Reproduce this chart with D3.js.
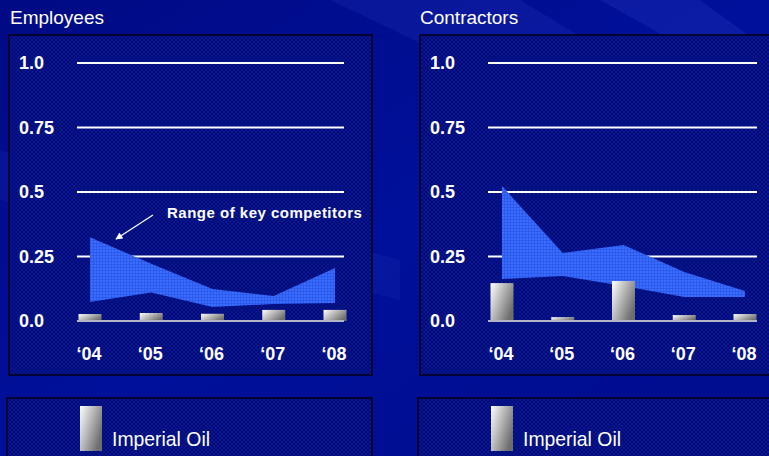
<!doctype html>
<html>
  <head>
    <script src="https://cdnjs.cloudflare.com/ajax/libs/d3/7.8.5/d3.min.js"></script>
    <style>
      body { margin: 0; background: #00088a; }
      svg { display: block; }
      text { font-family: "Liberation Sans", Arial, sans-serif; fill: #fff; }
      .title { font-size: 19px; }
      .tick-label { font-size: 18px; font-weight: bold; }
      .year { font-size: 18px; font-weight: bold; }
      .note { font-size: 15px; font-weight: bold; letter-spacing: 0.5px; }
      .legend-text { font-size: 21px; }
      line.grid { stroke: #fff; stroke-width: 2; }
      line.base { stroke: #b4b4c8; stroke-width: 2; }
      rect.panel { fill: url(#hatch); stroke: #000014; stroke-width: 1.5; }
      path.range { fill: url(#bandFill); }
    </style>
  </head>
  <body>
    <svg id="chart" width="769" height="456"></svg>
    <script>
      var years = ["\u201804", "\u201805", "\u201806", "\u201807", "\u201808"];
      var tickValues = [0, 0.25, 0.5, 0.75, 1.0];
      var tickLabels = ["0.0", "0.25", "0.5", "0.75", "1.0"];

      // Employees
      var empImperial = [0.027, 0.031, 0.028, 0.043, 0.043];
      var empLow = [0.074, 0.11, 0.054, 0.066, 0.07];
      var empHigh = [0.325, 0.222, 0.124, 0.097, 0.205];

      // Contractors
      var conImperial = [0.147, 0.015, 0.155, 0.023, 0.027];
      var conLow = [0.163, 0.174, 0.136, 0.093, 0.093];
      var conHigh = [0.523, 0.264, 0.295, 0.19, 0.116];

      var svg = d3.select("#chart");
      var defs = svg.append("defs");

      var bg = defs.append("linearGradient").attr("id", "bg")
        .attr("x1", 0).attr("y1", 0).attr("x2", 1).attr("y2", 1);
      bg.append("stop").attr("offset", "0%").attr("stop-color", "#000a84");
      bg.append("stop").attr("offset", "50%").attr("stop-color", "#00109a");
      bg.append("stop").attr("offset", "100%").attr("stop-color", "#000c8e");

      var hatch = defs.append("pattern").attr("id", "hatch")
        .attr("width", 4).attr("height", 4).attr("patternUnits", "userSpaceOnUse");
      hatch.append("rect").attr("width", 4).attr("height", 4).attr("fill", "#000a70");
      hatch.append("path").attr("d", "M0,0L4,4M4,0L0,4")
        .attr("stroke", "#0a1aa0").attr("stroke-width", 0.8);

      var band = defs.append("pattern").attr("id", "bandFill")
        .attr("width", 3).attr("height", 3).attr("patternUnits", "userSpaceOnUse");
      band.append("rect").attr("width", 3).attr("height", 3).attr("fill", "#3a6cff");
      band.append("path").attr("d", "M0,0.5H3M0.5,0V3")
        .attr("stroke", "#2654e4").attr("stroke-width", 0.7);

      var barGrad = defs.append("linearGradient").attr("id", "barGrad")
        .attr("x1", 0).attr("y1", 0).attr("x2", 1).attr("y2", 0.6);
      barGrad.append("stop").attr("offset", "0%").attr("stop-color", "#ffffff");
      barGrad.append("stop").attr("offset", "55%").attr("stop-color", "#b0b0b0");
      barGrad.append("stop").attr("offset", "100%").attr("stop-color", "#6e6e6e");

      defs.append("marker").attr("id", "arrow")
        .attr("viewBox", "0 0 10 10").attr("refX", 9).attr("refY", 5)
        .attr("markerWidth", 6).attr("markerHeight", 6).attr("orient", "auto")
        .append("path").attr("d", "M0,0L10,5L0,10z").attr("fill", "#fff");

      svg.append("rect").attr("width", 769).attr("height", 456).attr("fill", "url(#bg)");
      // light streaks in the background
      svg.append("path").attr("d", "M330,0L520,0L769,150L769,210Z")
        .attr("fill", "#1a2ab0").attr("opacity", 0.35);
      svg.append("path").attr("d", "M600,0L700,0L769,50L769,95Z")
        .attr("fill", "#2233bb").attr("opacity", 0.35);
      svg.append("path").attr("d", "M0,150L400,260L400,300L0,200Z")
        .attr("fill", "#1a2ab0").attr("opacity", 0.25);

      var y = d3.scaleLinear().domain([0, 1]).range([321, 63]);

      function drawPanel(opt) {
        var g = svg.append("g");
        var x = d3.scalePoint().domain(years).range(opt.xRange);

        g.append("text").attr("class", "title")
          .attr("x", opt.titleX).attr("y", 24).text(opt.title);

        g.append("rect").attr("class", "panel")
          .attr("x", opt.panel[0]).attr("y", 35)
          .attr("width", opt.panel[1]).attr("height", 340);

        g.selectAll("line.grid")
          .data(tickValues.filter(d => d > 0))
          .enter().append("line")
            .attr("class", "grid")
            .attr("x1", opt.grid[0]).attr("x2", opt.grid[1])
            .attr("y1", d => y(d)).attr("y2", d => y(d));

        g.selectAll("text.tick-label")
          .data(tickValues)
          .enter().append("text")
            .attr("class", "tick-label")
            .attr("x", opt.labelX)
            .attr("y", d => y(d) + 6)
            .text((d, i) => tickLabels[i]);

        var area = d3.area()
          .x((d, i) => x(years[i]))
          .y0(d => y(d[0]))
          .y1(d => y(d[1]));

        g.append("path").attr("class", "range")
          .datum(opt.low.map((d, i) => [d, opt.high[i]]))
          .attr("d", area);

        g.selectAll("rect.bar")
          .data(opt.bars)
          .enter().append("rect")
            .attr("class", "bar")
            .attr("x", (d, i) => x(years[i]) - 11.5)
            .attr("width", 23)
            .attr("y", d => y(d))
            .attr("height", d => y(0) - y(d))
            .attr("fill", "url(#barGrad)");

        g.append("line").attr("class", "base")
          .attr("x1", opt.grid[0]).attr("x2", opt.grid[1])
          .attr("y1", y(0)).attr("y2", y(0));

        g.selectAll("text.year")
          .data(years)
          .enter().append("text")
            .attr("class", "year")
            .attr("text-anchor", "middle")
            .attr("x", d => x(d) - 1)
            .attr("y", 360)
            .text(d => d);

        // legend
        g.append("rect").attr("class", "panel")
          .attr("x", opt.panel[0] - 2).attr("y", 398)
          .attr("width", opt.panel[1] + 2).attr("height", 70);
        g.append("rect")
          .attr("x", opt.legendX).attr("y", 406)
          .attr("width", 22).attr("height", 45)
          .attr("fill", "url(#barGrad)");
        g.append("text").attr("class", "legend-text")
          .attr("x", opt.legendX + 32).attr("y", 446)
          .attr("textLength", 98).attr("lengthAdjust", "spacingAndGlyphs")
          .text("Imperial Oil");

        return g;
      }

      var left = drawPanel({
        title: "Employees", titleX: 10,
        panel: [9, 363], grid: [77, 344], labelX: 19,
        xRange: [90, 335], bars: empImperial, low: empLow, high: empHigh,
        legendX: 80
      });

      drawPanel({
        title: "Contractors", titleX: 420,
        panel: [420, 360], grid: [488, 757], labelX: 430,
        xRange: [502, 745], bars: conImperial, low: conLow, high: conHigh,
        legendX: 491
      });

      left.append("line")
        .attr("x1", 153).attr("y1", 215).attr("x2", 116).attr("y2", 239)
        .attr("stroke", "#fff").attr("stroke-width", 1.2)
        .attr("marker-end", "url(#arrow)");
      left.append("text").attr("class", "note")
        .attr("x", 167).attr("y", 218)
        .text("Range of key competitors");
    </script>
  </body>
</html>
